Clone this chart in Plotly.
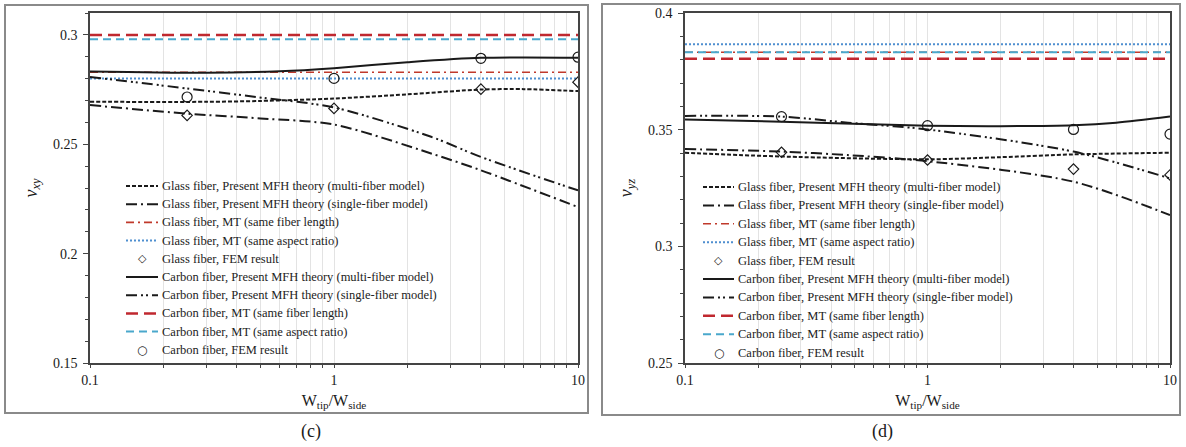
import plotly.graph_objects as go

# ---------------- data: panel (c)  nu_xy ----------------
c_glass_multi_x = [0.1, 0.3, 0.5, 1, 2, 4, 6, 10]
c_glass_multi_y = [0.2694, 0.2694, 0.2698, 0.2709, 0.2728, 0.2750, 0.2752, 0.2743]
c_glass_single_x = [0.1, 0.25, 0.5, 1, 2.5, 4, 10]
c_glass_single_y = [0.2679, 0.2640, 0.2618, 0.2590, 0.2458, 0.2381, 0.2213]
c_carbon_multi_x = [0.1, 0.3, 0.6, 1, 2, 4, 10]
c_carbon_multi_y = [0.2833, 0.2827, 0.2834, 0.2848, 0.2875, 0.2895, 0.2896]
c_carbon_single_x = [0.1, 0.25, 0.48, 1, 2.5, 4, 10]
c_carbon_single_y = [0.2808, 0.2755, 0.2716, 0.2668, 0.2534, 0.2442, 0.2289]
c_fem_x = [0.25, 1, 4, 10]
c_glass_fem_y = [0.2632, 0.2664, 0.2752, 0.2784]
c_carbon_fem_y = [0.2716, 0.2801, 0.2893, 0.2898]
c_glass_mt_length = 0.2829
c_glass_mt_aspect = 0.2801
c_carbon_mt_length = 0.3000
c_carbon_mt_aspect = 0.2980

# ---------------- data: panel (d)  nu_yz ----------------
d_glass_multi_x = [0.1, 0.25, 1, 2, 4, 10]
d_glass_multi_y = [0.3401, 0.3385, 0.3373, 0.3382, 0.3394, 0.3401]
d_glass_single_x = [0.1, 0.25, 0.47, 1, 4, 10]
d_glass_single_y = [0.3417, 0.3406, 0.3391, 0.3365, 0.3277, 0.3134]
d_carbon_multi_x = [0.1, 0.25, 1, 2, 4, 6, 10]
d_carbon_multi_y = [0.3544, 0.3534, 0.3517, 0.3515, 0.3519, 0.3530, 0.3556]
d_carbon_single_x = [0.1, 0.25, 0.47, 1, 4, 10]
d_carbon_single_y = [0.3559, 0.3556, 0.3530, 0.3501, 0.3406, 0.3291]
d_fem_x = [0.25, 1, 4, 10]
d_glass_fem_y = [0.3403, 0.3370, 0.3331, 0.3306]
d_carbon_fem_y = [0.3556, 0.3517, 0.3501, 0.3481]
d_glass_mt_length = 0.3832
d_glass_mt_aspect = 0.3866
d_carbon_mt_length = 0.3804
d_carbon_mt_aspect = 0.3832

x_ends = [0.1, 10]
names = [
    "Glass fiber, Present MFH theory (multi-fiber model)",
    "Glass fiber, Present MFH theory (single-fiber model)",
    "Glass fiber, MT (same fiber length)",
    "Glass fiber, MT (same aspect ratio)",
    "Glass fiber, FEM result",
    "Carbon fiber, Present MFH theory (multi-fiber model)",
    "Carbon fiber, Present MFH theory (single-fiber model)",
    "Carbon fiber, MT (same fiber length)",
    "Carbon fiber, MT (same aspect ratio)",
    "Carbon fiber, FEM result",
]

FONT = "Liberation Serif, Times New Roman, serif"
BLACK = "#1a1a1a"
RED = "#c0282f"
RED2 = "#c0392b"
CYAN = "#4aa8cc"
BLUE = "#4f8fd0"

styles = [
    dict(color=BLACK, width=2, dash="4px,2px"),
    dict(color=BLACK, width=2, dash="11px,4px,2px,4px"),
    dict(color=RED2, width=1.6, dash="8px,4px,2px,4px"),
    dict(color=BLUE, width=2, dash="2px,2px"),
    None,
    dict(color=BLACK, width=2),
    dict(color=BLACK, width=2, dash="11px,4px,2px,3px,2px,4px"),
    dict(color=RED, width=2.5, dash="12px,6px"),
    dict(color=CYAN, width=2, dash="8px,5px"),
    None,
]
marker_glyph = {4: "◇", 9: "○"}

fig = go.Figure()


def add_panel(xa, ya, data):
    for i, (xs, ys) in enumerate(data):
        if styles[i] is None:
            sym = "diamond-open" if i == 4 else "circle-open"
            size = 8 if i == 4 else 10
            fig.add_trace(go.Scatter(
                x=xs, y=ys, mode="markers", name=names[i],
                marker=dict(symbol=sym, size=size, color=BLACK,
                            line=dict(width=1.2, color=BLACK)),
                xaxis=xa, yaxis=ya, showlegend=False))
        else:
            fig.add_trace(go.Scatter(
                x=xs, y=ys, mode="lines", name=names[i],
                line=dict(shape="spline", smoothing=0.8, **styles[i]),
                xaxis=xa, yaxis=ya, showlegend=False))


add_panel("x", "y", [
    (c_glass_multi_x, c_glass_multi_y),
    (c_glass_single_x, c_glass_single_y),
    (x_ends, [c_glass_mt_length] * 2),
    (x_ends, [c_glass_mt_aspect] * 2),
    (c_fem_x, c_glass_fem_y),
    (c_carbon_multi_x, c_carbon_multi_y),
    (c_carbon_single_x, c_carbon_single_y),
    (x_ends, [c_carbon_mt_length] * 2),
    (x_ends, [c_carbon_mt_aspect] * 2),
    (c_fem_x, c_carbon_fem_y),
])
add_panel("x2", "y2", [
    (d_glass_multi_x, d_glass_multi_y),
    (d_glass_single_x, d_glass_single_y),
    (x_ends, [d_glass_mt_length] * 2),
    (x_ends, [d_glass_mt_aspect] * 2),
    (d_fem_x, d_glass_fem_y),
    (d_carbon_multi_x, d_carbon_multi_y),
    (d_carbon_single_x, d_carbon_single_y),
    (x_ends, [d_carbon_mt_length] * 2),
    (x_ends, [d_carbon_mt_aspect] * 2),
    (d_fem_x, d_carbon_fem_y),
])

W, H = 1186, 447
ydom = [1 - 363 / H, 1 - 13 / H]


def xaxis(domain, anchor):
    return dict(
        type="log", range=[-1, 1], domain=domain, anchor=anchor,
        dtick=1, tick0=0, automargin=False,
        showgrid=True, gridcolor="#e3e3e3", gridwidth=1,
        minor=dict(dtick="D1", showgrid=True, gridcolor="#e3e3e3", gridwidth=1,
                   ticks="outside", ticklen=3, tickcolor="#444"),
        ticks="outside", ticklen=3, tickcolor="#444",
        showline=True, linecolor="#444", linewidth=1.5, mirror=True,
        tickfont=dict(family=FONT, size=14, color=BLACK),
        title=dict(text="W<sub>tip</sub>/W<sub>side</sub>",
                   font=dict(family=FONT, size=16, color=BLACK), standoff=8),
        zeroline=False,
    )


def yaxis(rng, domain, anchor, title):
    return dict(
        range=rng, domain=domain, anchor=anchor, dtick=0.05, tick0=rng[0],
        showgrid=False, zeroline=False, automargin=False,
        ticks="outside", ticklen=5, tickcolor="#444",
        minor=dict(dtick=0.01, ticks="outside", ticklen=3, tickcolor="#444", showgrid=False),
        showline=True, linecolor="#444", linewidth=1.5, mirror=True,
        tickfont=dict(family=FONT, size=14, color=BLACK),
        ticklabelstandoff=3,
        title=dict(text=title, font=dict(family=FONT, size=18, color=BLACK), standoff=11),
    )


# ---- hand-placed legends (row layout in pixels) ----
shapes = [
    dict(type="rect", xref="paper", yref="paper",
         x0=5 / W, x1=588 / W, y0=1 - 413 / H, y1=1 - 5 / H,
         line=dict(color="#8a8a8a", width=2)),
    dict(type="rect", xref="paper", yref="paper",
         x0=602 / W, x1=1180 / W, y0=1 - 415 / H, y1=1 - 4 / H,
         line=dict(color="#8a8a8a", width=2)),
]
annotations = [
    dict(text="(c)", xref="paper", yref="paper", x=311 / W, y=1 - 431 / H,
         xanchor="center", yanchor="middle",
         showarrow=False, font=dict(family=FONT, size=18, color=BLACK)),
    dict(text="(d)", xref="paper", yref="paper", x=882 / W, y=1 - 431 / H,
         xanchor="center", yanchor="middle",
         showarrow=False, font=dict(family=FONT, size=18, color=BLACK)),
]

legend_specs = [
    dict(g0=126, g1=158, tx=160, y0=186, dy=18.2),
    dict(g0=703, g1=734, tx=736, y0=187, dy=18.4),
]
for spec in legend_specs:
    for i, name in enumerate(names):
        yp = 1 - (spec["y0"] + i * spec["dy"]) / H
        if styles[i] is None:
            annotations.append(dict(
                text=marker_glyph[i], xref="paper", yref="paper",
                x=(spec["g0"] + spec["g1"]) / 2 / W, y=yp,
                xanchor="center", yanchor="middle", showarrow=False,
                font=dict(family="DejaVu Sans", size=11 if i == 4 else 12, color=BLACK)))
        else:
            shapes.append(dict(
                type="line", xref="paper", yref="paper",
                x0=spec["g0"] / W, x1=spec["g1"] / W, y0=yp, y1=yp,
                line=dict(color=styles[i]["color"], width=styles[i]["width"],
                          dash=styles[i].get("dash", "solid"))))
        annotations.append(dict(
            text=name, xref="paper", yref="paper", x=spec["tx"] / W, y=yp,
            xanchor="left", yanchor="middle", showarrow=False,
            font=dict(family=FONT, size=12.5, color="#222")))

fig.update_layout(
    width=W, height=H, margin=dict(l=0, r=0, t=0, b=0),
    paper_bgcolor="white", plot_bgcolor="white", showlegend=False,
    xaxis=xaxis([90 / W, 578 / W], "y"),
    yaxis=yaxis([0.15, 0.31], ydom, "x", "<i>ν<sub>xy</sub></i>"),
    xaxis2=xaxis([685 / W, 1170 / W], "y2"),
    yaxis2=yaxis([0.25, 0.40], ydom, "x2", "<i>ν<sub>yz</sub></i>"),
    shapes=shapes,
    annotations=annotations,
)

fig.write_html("out.html")
